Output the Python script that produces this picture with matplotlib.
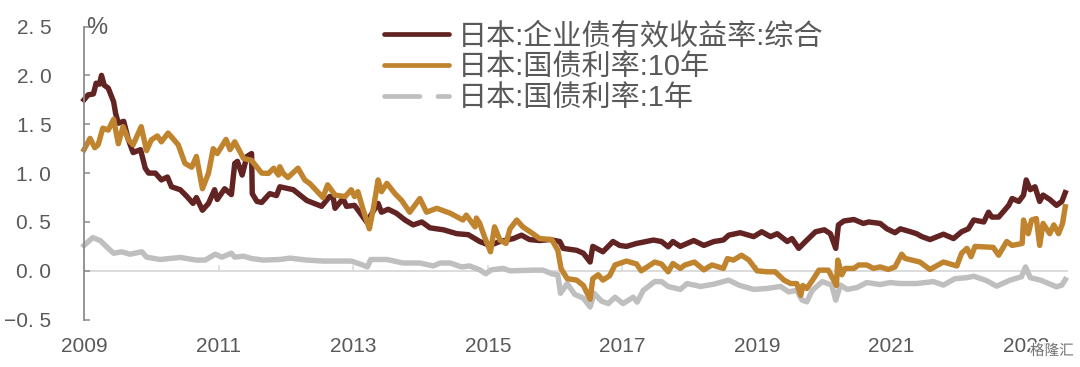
# Japan corporate bond yield vs government bond yields, 2009-2023
import matplotlib
matplotlib.use("Agg")
import matplotlib.pyplot as plt
from matplotlib.lines import Line2D
import matplotlib.patheffects as pe

# Corporate bond effective yield
corp_years = [2009.0, 2009.06, 2009.14, 2009.18, 2009.23, 2009.26, 2009.30, 2009.36, 2009.44, 2009.47, 2009.51, 2009.59,
              2009.66, 2009.73, 2009.84, 2009.91, 2009.96, 2010.06, 2010.15, 2010.24, 2010.30, 2010.43, 2010.53, 2010.62,
              2010.67, 2010.76, 2010.85, 2010.94, 2010.98, 2011.09, 2011.19, 2011.24, 2011.28, 2011.35, 2011.42, 2011.49,
              2011.50, 2011.57, 2011.64, 2011.76, 2011.86, 2011.91, 2012.11, 2012.31, 2012.53, 2012.65, 2012.70, 2012.73,
              2012.85, 2012.90, 2013.02, 2013.20, 2013.37, 2013.42, 2013.52, 2013.64, 2013.77, 2013.89, 2014.02, 2014.14,
              2014.34, 2014.54, 2014.71, 2014.88, 2015.03, 2015.18, 2015.38, 2015.50, 2015.62, 2015.77, 2015.92, 2016.07,
              2016.12, 2016.32, 2016.42, 2016.52, 2016.56, 2016.71, 2016.86, 2016.96, 2017.06, 2017.21, 2017.46, 2017.58,
              2017.68, 2017.75, 2017.86, 2018.06, 2018.21, 2018.36, 2018.50, 2018.58, 2018.75, 2018.95, 2019.07, 2019.20,
              2019.30, 2019.45, 2019.52, 2019.62, 2019.72, 2019.87, 2020.00, 2020.09, 2020.17, 2020.21, 2020.29, 2020.44,
              2020.58, 2020.66, 2020.83, 2020.93, 2021.05, 2021.13, 2021.28, 2021.37, 2021.45, 2021.57, 2021.77, 2021.92,
              2022.04, 2022.14, 2022.22, 2022.37, 2022.44, 2022.49, 2022.59, 2022.74, 2022.79, 2022.89, 2022.96, 2023.00,
              2023.06, 2023.13, 2023.20, 2023.25, 2023.35, 2023.45, 2023.53, 2023.58]
corp_yield = [1.75, 1.80, 1.81, 1.92, 1.91, 2.00, 1.90, 1.87, 1.73, 1.61, 1.51, 1.53,
              1.34, 1.21, 1.24, 1.05, 1.00, 1.00, 0.93, 0.96, 0.86, 0.83, 0.76, 0.69,
              0.75, 0.62, 0.69, 0.83, 0.73, 0.84, 0.78, 1.10, 1.12, 0.98, 1.17, 1.20,
              0.79, 0.71, 0.70, 0.79, 0.77, 0.86, 0.83, 0.72, 0.66, 0.76, 0.76, 0.64,
              0.74, 0.66, 0.67, 0.50, 0.69, 0.60, 0.63, 0.59, 0.52, 0.47, 0.50, 0.44,
              0.42, 0.38, 0.37, 0.30, 0.26, 0.30, 0.33, 0.365, 0.32, 0.31, 0.32, 0.30,
              0.23, 0.21, 0.18, 0.09, 0.25, 0.195, 0.30, 0.26, 0.25, 0.28, 0.315, 0.30,
              0.246, 0.30, 0.25, 0.31, 0.26, 0.30, 0.315, 0.365, 0.39, 0.35, 0.40, 0.35,
              0.38, 0.30, 0.33, 0.23, 0.30, 0.40, 0.42, 0.38, 0.23, 0.47, 0.51, 0.525,
              0.485, 0.50, 0.485, 0.43, 0.39, 0.43, 0.40, 0.38, 0.35, 0.32, 0.375, 0.33,
              0.40, 0.43, 0.52, 0.50, 0.60, 0.55, 0.55, 0.67, 0.74, 0.71, 0.775, 0.93,
              0.83, 0.86, 0.71, 0.775, 0.73, 0.67, 0.71, 0.80]

# 10 year government bond
jgb10_years = [2009.0, 2009.09, 2009.16, 2009.21, 2009.28, 2009.36, 2009.44, 2009.51, 2009.58, 2009.66, 2009.73, 2009.85,
               2009.93, 2010.00, 2010.09, 2010.15, 2010.25, 2010.40, 2010.50, 2010.60, 2010.67, 2010.76, 2010.85, 2010.92,
               2010.98, 2011.11, 2011.17, 2011.24, 2011.37, 2011.49, 2011.64, 2011.74, 2011.82, 2011.89, 2011.91, 2011.96,
               2012.03, 2012.18, 2012.28, 2012.36, 2012.55, 2012.62, 2012.73, 2012.88, 2012.97, 2013.02, 2013.07, 2013.15,
               2013.24, 2013.30, 2013.37, 2013.42, 2013.50, 2013.62, 2013.72, 2013.84, 2013.99, 2014.09, 2014.24, 2014.44,
               2014.63, 2014.68, 2014.81, 2014.83, 2014.88, 2014.95, 2015.04, 2015.10, 2015.18, 2015.27, 2015.33, 2015.43,
               2015.52, 2015.67, 2015.77, 2015.95, 2016.04, 2016.09, 2016.18, 2016.32, 2016.42, 2016.52, 2016.56, 2016.64,
               2016.71, 2016.81, 2016.89, 2017.06, 2017.21, 2017.28, 2017.48, 2017.58, 2017.68, 2017.75, 2017.86, 2017.93,
               2018.07, 2018.21, 2018.33, 2018.50, 2018.56, 2018.65, 2018.77, 2018.88, 2019.00, 2019.15, 2019.27, 2019.40,
               2019.50, 2019.59, 2019.65, 2019.68, 2019.74, 2019.84, 2019.92, 2020.06, 2020.18, 2020.20, 2020.26, 2020.31,
               2020.44, 2020.51, 2020.63, 2020.73, 2020.83, 2020.95, 2021.05, 2021.15, 2021.20, 2021.42, 2021.57, 2021.77,
               2021.97, 2022.04, 2022.12, 2022.18, 2022.24, 2022.51, 2022.59, 2022.71, 2022.79, 2022.94, 2022.96, 2023.03,
               2023.08, 2023.15, 2023.20, 2023.25, 2023.35, 2023.41, 2023.48, 2023.54, 2023.58]
jgb10_yield = [1.24, 1.355, 1.26, 1.29, 1.46, 1.44, 1.55, 1.30, 1.475, 1.34, 1.29, 1.475,
               1.23, 1.34, 1.38, 1.32, 1.41, 1.29, 1.10, 1.06, 1.17, 0.84, 1.00, 1.25,
               1.20, 1.345, 1.24, 1.32, 1.15, 1.13, 1.00, 0.997, 1.05, 0.98, 1.065, 0.997,
               0.955, 1.05, 0.93, 0.89, 0.75, 0.88, 0.775, 0.76, 0.83, 0.76, 0.81, 0.62,
               0.43, 0.64, 0.93, 0.81, 0.895, 0.79, 0.72, 0.60, 0.74, 0.60, 0.64, 0.59,
               0.52, 0.57, 0.45, 0.54, 0.485, 0.35, 0.195, 0.45, 0.315, 0.28, 0.43, 0.52,
               0.45, 0.38, 0.33, 0.32, 0.21, 0.02, -0.08, -0.095, -0.15, -0.29, -0.08, -0.04,
               -0.095, -0.05, 0.06, 0.10, 0.07, 0.0, 0.09, 0.07, -0.01, 0.075, 0.025, 0.06,
               0.09, 0.01, 0.06, 0.025, 0.125, 0.11, 0.16, 0.11, 0.0, -0.01, -0.01, -0.095,
               -0.13, -0.13, -0.25, -0.15, -0.18, -0.08, 0.007, 0.007, -0.15, 0.11, -0.04, 0.025,
               0.025, 0.06, 0.06, 0.025, 0.04, 0.014, 0.04, 0.17, 0.127, 0.09, 0.014, 0.09,
               0.05, 0.18, 0.23, 0.145, 0.25, 0.24, 0.16, 0.30, 0.26, 0.28, 0.52, 0.38,
               0.52, 0.535, 0.26, 0.485, 0.38, 0.47, 0.38, 0.485, 0.655]

# 1 year government bond
jgb1_years = [2009.0, 2009.13, 2009.24, 2009.36, 2009.44, 2009.56, 2009.68, 2009.86, 2009.93, 2010.13, 2010.43, 2010.67,
              2010.80, 2010.95, 2011.05, 2011.19, 2011.24, 2011.37, 2011.49, 2011.66, 2011.91, 2012.06, 2012.31, 2012.55,
              2012.97, 2013.10, 2013.21, 2013.26, 2013.50, 2013.74, 2013.99, 2014.19, 2014.29, 2014.44, 2014.61, 2014.73,
              2014.88, 2014.97, 2015.05, 2015.23, 2015.33, 2015.67, 2015.82, 2015.95, 2016.04, 2016.08, 2016.18, 2016.29,
              2016.42, 2016.52, 2016.58, 2016.69, 2016.79, 2016.89, 2017.01, 2017.16, 2017.22, 2017.31, 2017.48, 2017.58,
              2017.68, 2017.86, 2017.96, 2018.16, 2018.36, 2018.58, 2018.73, 2018.95, 2019.15, 2019.35, 2019.47, 2019.59,
              2019.67, 2019.74, 2019.82, 2019.97, 2020.11, 2020.17, 2020.24, 2020.34, 2020.49, 2020.63, 2020.83, 2020.98,
              2021.13, 2021.37, 2021.62, 2021.77, 2021.94, 2022.12, 2022.22, 2022.41, 2022.56, 2022.76, 2022.93, 2022.99,
              2023.06, 2023.21, 2023.45, 2023.53, 2023.58]
jgb1_yield = [0.26, 0.34, 0.31, 0.23, 0.18, 0.195, 0.17, 0.195, 0.14, 0.116, 0.137, 0.11,
              0.11, 0.17, 0.14, 0.18, 0.14, 0.15, 0.126, 0.11, 0.116, 0.13, 0.11, 0.10,
              0.10, 0.07, 0.04, 0.116, 0.116, 0.08, 0.08, 0.05, 0.08, 0.08, 0.04, 0.05,
              0.01, -0.03, 0.01, 0.025, 0.0, 0.007, 0.007, -0.03, -0.04, -0.23, -0.13, -0.24,
              -0.28, -0.37, -0.23, -0.31, -0.335, -0.27, -0.335, -0.27, -0.32, -0.20, -0.11, -0.11,
              -0.16, -0.19, -0.13, -0.16, -0.136, -0.095, -0.146, -0.19, -0.18, -0.16, -0.215, -0.20,
              -0.30, -0.317, -0.20, -0.11, -0.146, -0.30, -0.146, -0.19, -0.17, -0.12, -0.14, -0.12,
              -0.13, -0.13, -0.11, -0.146, -0.08, -0.07, -0.055, -0.10, -0.157, -0.095, -0.06, 0.04,
              -0.07, -0.095, -0.163, -0.146, -0.09]

legend_labels = ["日本:企业债有效收益率:综合", "日本:国债利率:10年", "日本:国债利率:1年"]
year_ticks = [2009, 2011, 2013, 2015, 2017, 2019, 2021, 2023]
y_ticks = [-0.5, 0.0, 0.5, 1.0, 1.5, 2.0, 2.5]
y_tick_labels = ["\u22120. 5", "0. 0", "0. 5", "1. 0", "1. 5", "2. 0", "2. 5"]

plt.rcParams["font.family"] = ["Liberation Sans", "Noto Sans CJK SC", "DejaVu Sans"]
text_color = "#595959"
colors = ["#622423", "#C0832E", "#BFBFBF"]

fig = plt.figure(figsize=(10.8, 3.67), dpi=100)
# axes box placed in figure fractions so the year spacing lands where the original has it
ax = fig.add_axes([84 / 1080, 1 - 319.7 / 367, 982.6 / 1080, 293.2 / 367])

line_width = 3.9
ax.plot(jgb1_years, jgb1_yield, color=colors[2], lw=line_width, clip_on=False, solid_joinstyle="round")
ax.plot(corp_years, corp_yield, color=colors[0], lw=line_width, clip_on=False, solid_joinstyle="round")
ax.plot(jgb10_years, jgb10_yield, color=colors[1], lw=line_width, clip_on=False, solid_joinstyle="round")

ax.set_xlim(2009, 2023.6)
ax.set_ylim(-0.5, 2.5)

# x axis runs along zero, labels stay down at the bottom
ax.spines["top"].set_visible(False)
ax.spines["right"].set_visible(False)
ax.spines["bottom"].set_position(("data", 0))
ax.spines["bottom"].set_color("#D9D9D9")
ax.spines["bottom"].set_linewidth(1.3)
ax.spines["bottom"].set_zorder(1)
ax.spines["left"].set_color("#8C8C8C")
ax.spines["left"].set_linewidth(1.3)

ax.set_xticks(year_ticks)
ax.set_xticklabels([str(y) for y in year_ticks])
ax.set_yticks(y_ticks)
ax.set_yticklabels(y_tick_labels)
ax.tick_params(axis="x", direction="in", length=4.5, width=1.1, color="#D9D9D9", pad=48, labelsize=15, labelcolor=text_color)
ax.tick_params(axis="y", direction="in", length=4.5, width=1.1, color="#8C8C8C", pad=23.5, labelsize=15, labelcolor=text_color)

ax.text(2009.03, 2.48, "%", fontsize=17, color=text_color, ha="left", va="center")

handles = [
    Line2D([], [], color=colors[0], lw=3.4, solid_capstyle="round"),
    Line2D([], [], color=colors[1], lw=3.4, solid_capstyle="round"),
    Line2D([], [], color=colors[2], lw=3.4, dash_capstyle="round", linestyle=(0, (7.5, 3.8))),
]
ax.legend(handles, legend_labels, loc="upper left", bbox_to_anchor=(0.305, 1.015), frameon=False, fontsize=21,
          labelcolor=text_color, handlelength=2.25, handletextpad=0.3, labelspacing=0.1, borderpad=0, borderaxespad=0)

# site watermark over the last year label
fig.text(1030 / 1080, 1 - 351 / 367, "格隆汇", fontsize=10.5, color="#6E6E6E", ha="left", va="center",
         path_effects=[pe.withStroke(linewidth=2, foreground="white")])

fig.savefig("out.png", dpi=100)
